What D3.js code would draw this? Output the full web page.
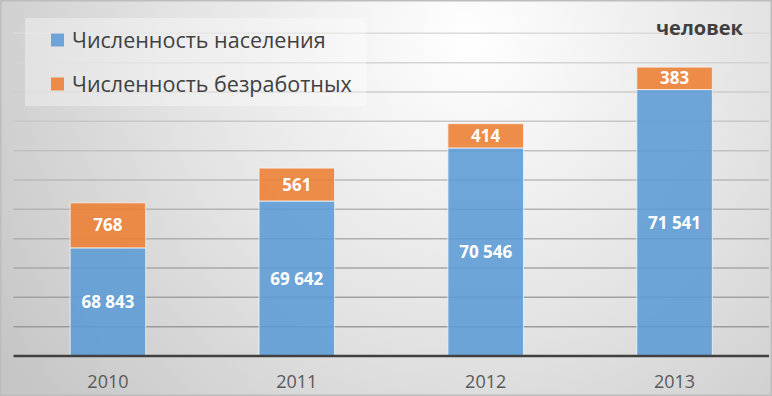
<!DOCTYPE html>
<html><head><meta charset="utf-8">
<script src="https://cdn.jsdelivr.net/npm/d3@7"></script>
<style>html,body{margin:0;padding:0;background:#fff;}svg{display:block;}</style>
</head><body>
<svg id="chart" width="772" height="396"></svg>
<script>
const years = ["2010","2011","2012","2013"];
const population = [68843, 69642, 70546, 71541];
const unemployed = [768, 561, 414, 383];
const seriesNames = ["Численность населения","Численность безработных"];
const seriesColors = ["#5b9bd5","#ed7d31"];
const unitLabel = "человек";
const yMin = 67000, yMax = 72500, yStep = 500;

const W = 772, H = 396;
const svg = d3.select("#chart");
const defs = svg.append("defs");
const rg = defs.append("radialGradient").attr("id","bg")
  .attr("gradientUnits","userSpaceOnUse").attr("cx",470).attr("cy",40).attr("r",560);
rg.append("stop").attr("offset","0").attr("stop-color","#ffffff");
rg.append("stop").attr("offset","0.55").attr("stop-color","#e2e2e2");
rg.append("stop").attr("offset","1").attr("stop-color","#c6c6c6");
svg.append("rect").attr("width",W).attr("height",H).attr("fill","url(#bg)");
svg.append("rect").attr("x",0.75).attr("y",0.75).attr("width",W-1.5).attr("height",H-1.5)
  .attr("fill","none").attr("stroke","#bdbdbd").attr("stroke-width",1.5);

const margin = {left:13.5, right:3, top:33.3, bottom:40};
const x = d3.scaleBand().domain(years).range([margin.left, W-margin.right]).paddingInner(0.6).paddingOuter(0.3);
const y = d3.scaleLinear().domain([yMin,yMax]).range([356, margin.top]);

const gridColor = d3.scaleLinear().domain([33,330]).range(["#dadada","#9a9a9a"]);
const ticks = d3.range(yMin+yStep, yMax+1, yStep);
svg.append("g").selectAll("line").data(ticks).join("line")
  .attr("x1",margin.left).attr("x2",W-margin.right)
  .attr("y1",d=>y(d)).attr("y2",d=>y(d))
  .attr("stroke",d=>gridColor(y(d))).attr("stroke-width",1.5);

const data = years.map((yr,i)=>({year:yr, pop:population[i], un:unemployed[i]}));
const stack = d3.stack().keys(["pop","un"]);
const stacked = stack(data);

const bars = svg.append("g");
stacked.forEach((layer,li)=>{
  bars.selectAll(null).data(layer).join("rect")
    .attr("x",d=>x(d.data.year))
    .attr("width",x.bandwidth())
    .attr("y",d=>y(d[1]))
    .attr("height",d=>y(Math.max(d[0],yMin))-y(d[1]))
    .attr("fill",seriesColors[li]).attr("fill-opacity",0.88)
    .attr("stroke","#f4f4f4").attr("stroke-opacity",0.8).attr("stroke-width",1);
});

const fmt = v => d3.format(",")(v).replace(/,/g," ");
const labels = svg.append("g").attr("font-family","'Open Sans', sans-serif")
  .attr("font-weight","bold").attr("font-size",17).attr("fill","#ffffff").attr("text-anchor","middle");
labels.selectAll(null).data(data).join("text")
  .attr("x",d=>x(d.year)+x.bandwidth()/2)
  .attr("y",d=>(y(d.pop)+y(yMin))/2).attr("dy","0.36em")
  .text(d=>fmt(d.pop));
labels.selectAll(null).data(data).join("text")
  .attr("x",d=>x(d.year)+x.bandwidth()/2)
  .attr("y",d=>(y(d.pop)+y(d.pop+d.un))/2).attr("dy","0.36em")
  .text(d=>fmt(d.un));

svg.append("line").attr("x1",margin.left).attr("x2",W-margin.right)
  .attr("y1",y(yMin)).attr("y2",y(yMin)).attr("stroke","#404040").attr("stroke-width",2.5);

const xAxis = svg.append("g").attr("transform",`translate(0,${y(yMin)})`)
  .call(d3.axisBottom(x).tickSize(0).tickPadding(0));
xAxis.select(".domain").remove();
xAxis.selectAll("text").attr("font-family","'Open Sans', sans-serif").attr("font-size",18)
  .attr("fill","#595959").attr("dy",0).attr("y",32);

// legend
const lg = svg.append("g");
lg.append("rect").attr("x",25).attr("y",18).attr("width",341).attr("height",88)
  .attr("fill","#ffffff").attr("fill-opacity",0.35);
seriesNames.forEach((n,i)=>{
  const cy = 40 + i*44;
  lg.append("rect").attr("x",51).attr("y",cy-6.5).attr("width",13).attr("height",13).attr("fill",seriesColors[i]).attr("fill-opacity",0.88);
  lg.append("text").attr("x",72).attr("y",cy).attr("dy","0.36em")
    .attr("font-family","'Open Sans', sans-serif").attr("font-size",21.5).attr("fill","#404040").text(n);
});

svg.append("text").attr("x",743).attr("y",35).attr("text-anchor","end")
  .attr("font-family","'Open Sans', sans-serif").attr("font-weight","bold").attr("font-size",20)
  .attr("fill","#404040").text(unitLabel);
</script>
</body></html>
